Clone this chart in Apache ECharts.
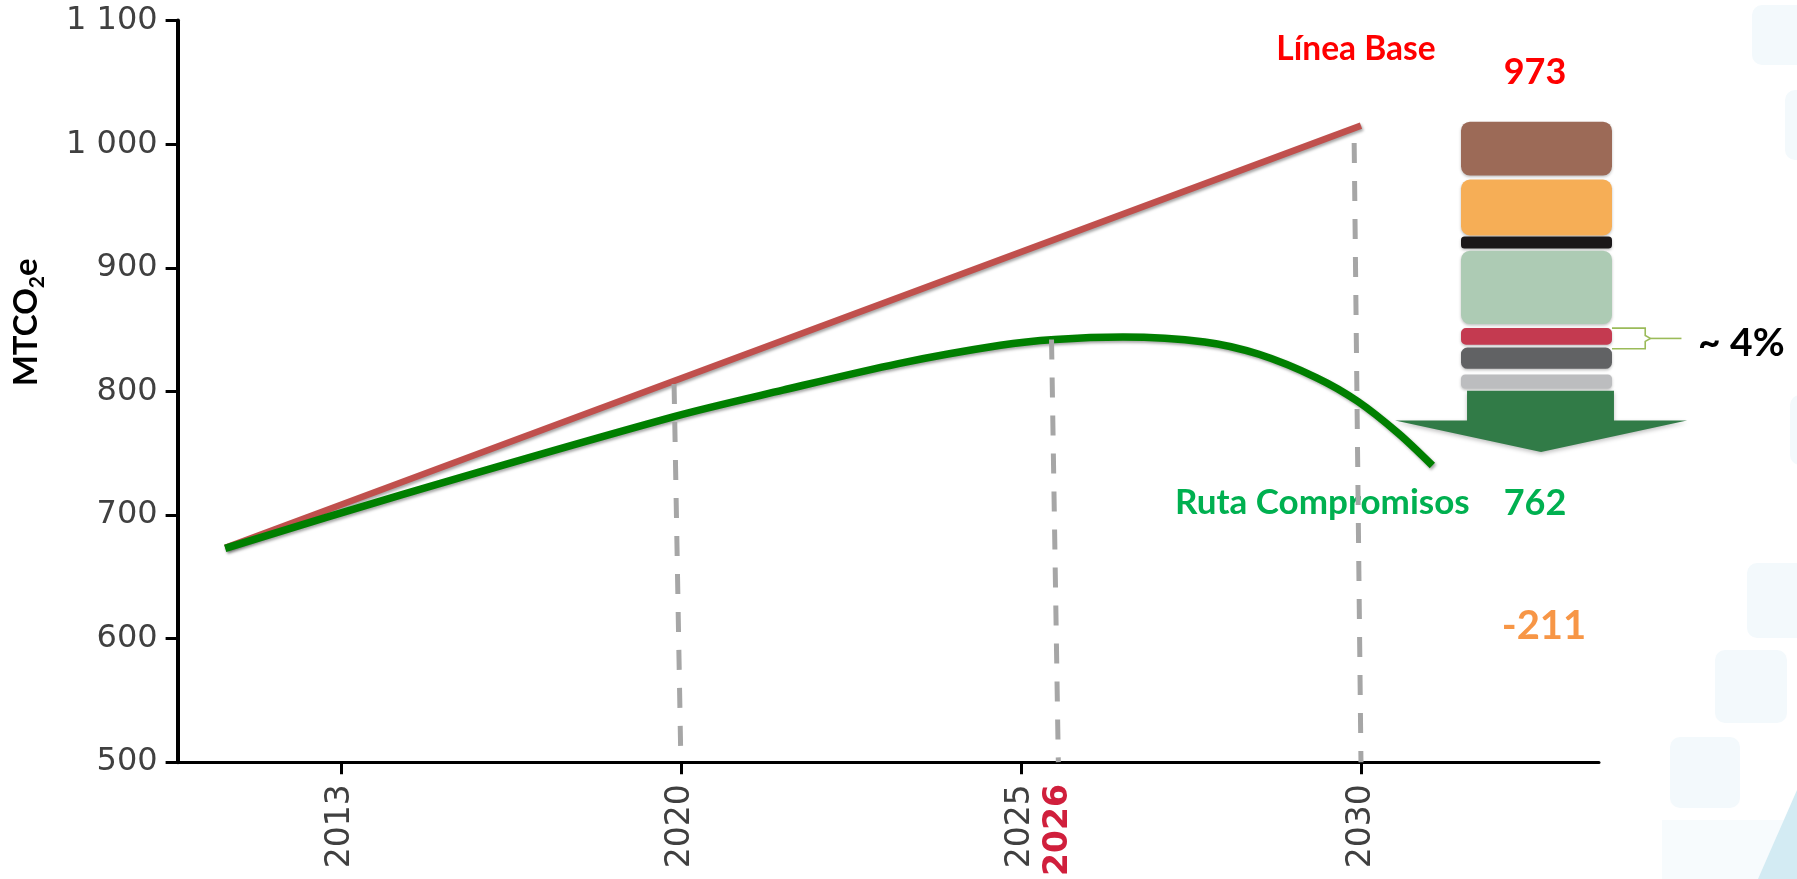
<!DOCTYPE html>
<html>
<head>
<meta charset="utf-8">
<script src="https://cdn.jsdelivr.net/npm/echarts@6/dist/echarts.min.js"></script>
<style>
  html, body { margin: 0; padding: 0; background: #ffffff; }
  #chart { width: 1797px; height: 879px; }
</style>
</head>
<body>
<div id="chart"></div>
<script>
// ---------------- data ----------------
// x values are years on the chart's (hand-drawn) time axis
const baseYears  = [2013.3, 2030.0];
const baseValues = [673.5, 1015];

const pathYears  = [2013.3, 2015.9, 2019.9, 2021.5, 2023.2, 2024.7, 2025.5, 2026.5, 2027.7, 2028.5, 2029.35, 2029.95, 2030.55, 2031.05];
const pathValues = [673, 716.5, 779.6, 801, 822.5, 837.3, 842, 844, 840, 830, 811, 792, 766, 740];

// x-axis tick labels and where the source places them on its axis
const xTickLabels = ['2013', '2020', '2025', '2026', '2030'];
const xTickAt     = [2015.0, 2020, 2025, 2025.55, 2030];
const xTickMarks  = [2015.0, 2020, 2025, 2030];
const highlightLabel = '2026';

// dashed guide lines (top year/value -> bottom year)
const guideTopYears = [2019.9, 2025.45, 2029.9];
const guideTopValues = [806, 842, 1001];
const guideBottomYears = [2020, 2025.55, 2030];

// stacked reduction blocks (MtCO2e scale of the main axis)
const reductionColors = ['#9C6A57', '#F6AE56', '#1B1819', '#ADCBB4', '#C43A50', '#616264', '#BCBDBF'];
const reductionTop    = [1018.6, 972.0, 926.0, 914.7, 852.3, 836.6, 815.0];
const reductionBottom = [975.2, 926.9, 916.5, 855.6, 838.9, 819.5, 803.6];
const arrowLevels  = [801.8, 777.9, 752.6];   // body top, wing line, tip
const bracketRange = [852.3, 835.7];
const bracketText  = '~ 4%';

const baseline2030 = 973;
const commitment2030 = 762;
const gap2030 = commitment2030 - baseline2030;

const yMin = 500, yMax = 1100, yStep = 100;
const xMin = 2012.6, xMax = 2033.5;

// ---------------- chart ----------------
const chart = echarts.init(document.getElementById('chart'));

function fmtThousands(v) {
  if (v >= 1000) return Math.floor(v / 1000) + ' ' + String(v % 1000).padStart(3, '0');
  return String(v);
}

const lineShadow = { shadowColor: 'rgba(0,0,0,0.35)', shadowBlur: 3, shadowOffsetX: 1.5, shadowOffsetY: 2 };

const guideSeries = guideTopYears.map((ty, i) => ({
  type: 'line',
  xAxisIndex: 0, yAxisIndex: 0,
  data: [[ty, guideTopValues[i]], [guideBottomYears[i], yMin]],
  symbol: 'none',
  silent: true,
  z: 6,
  lineStyle: { color: '#A6A6A6', width: 5, type: [20, 18], cap: 'butt' }
}));

const bgColor = '#F3F9FC';
const bgRects = [
  [1752, 5, 60, 60], [1785, 90, 40, 70], [1790, 395, 30, 70],
  [1747, 563, 60, 75], [1715, 650, 72, 73], [1670, 737, 70, 71]
];

const option = {
  backgroundColor: '#ffffff',
  animation: false,
  graphic: [
    ...bgRects.map(r => ({
      type: 'rect', z: -10, silent: true,
      shape: { x: r[0], y: r[1], width: r[2], height: r[3], r: 10 },
      style: { fill: bgColor }
    })),
    { type: 'rect', z: -11, silent: true, shape: { x: 1662, y: 820, width: 135, height: 59 }, style: { fill: '#F7FBFD' } },
    { type: 'polygon', z: -9, silent: true, shape: { points: [[1797, 790], [1797, 879], [1758, 879]] }, style: { fill: '#D3EBF3' } },
    { type: 'text', x: 1356, y: 49, style: { text: 'Línea Base', fill: '#FF0000', font: 'bold 33.5px Lato', textAlign: 'center', textVerticalAlign: 'middle' } },
    { type: 'text', x: 1175, y: 503, style: { text: 'Ruta Compromisos', fill: '#00B050', font: 'bold 35px Lato', textAlign: 'left', textVerticalAlign: 'middle' } },
    { type: 'text', x: 1535, y: 72, style: { text: String(baseline2030), fill: '#FF0000', font: 'bold 36px Lato', textAlign: 'center', textVerticalAlign: 'middle' } },
    { type: 'text', x: 1535, y: 503, style: { text: String(commitment2030), fill: '#00B050', font: 'bold 36px Lato', textAlign: 'center', textVerticalAlign: 'middle' } },
    { type: 'text', x: 1544, y: 626, style: { text: String(gap2030), fill: '#F79646', font: 'bold 40px Lato', textAlign: 'center', textVerticalAlign: 'middle' } },
    { type: 'text', x: 1698, y: 343, style: { text: bracketText, fill: '#000000', font: 'bold 39px Lato', textAlign: 'left', textVerticalAlign: 'middle' } }
  ],
  grid: [
    { left: 177.6, right: 198, top: 20.6, bottom: 113.5, containLabel: false },
    { left: 1461, width: 151, top: 20.6, bottom: 113.5, containLabel: false }
  ],
  xAxis: [
    {
      type: 'value', gridIndex: 0, min: xMin, max: xMax,
      splitLine: { show: false },
      axisLine: { show: true, onZero: false, lineStyle: { color: '#000', width: 3 } },
      axisTick: { show: true, customValues: xTickMarks, length: 12, lineStyle: { color: '#000', width: 3 } },
      axisLabel: {
        show: true,
        customValues: xTickAt,
        rotate: 90,
        margin: 22,
        formatter: function (v) {
          let idx = 0, best = Infinity;
          xTickAt.forEach((p, i) => { const d = Math.abs(p - v); if (d < best) { best = d; idx = i; } });
          const t = xTickLabels[idx];
          return t === highlightLabel ? '{r|' + t + '}' : '{n|' + t + '}';
        },
        rich: {
          n: { color: '#404040', fontSize: 33, fontFamily: 'DejaVu Sans' },
          r: { color: '#D01F3C', fontSize: 33, fontFamily: 'DejaVu Sans', fontWeight: 'bold' }
        }
      }
    },
    { type: 'category', gridIndex: 1, data: ['reducciones'], show: false, boundaryGap: true }
  ],
  yAxis: [
    {
      type: 'value', gridIndex: 0, min: yMin, max: yMax, interval: yStep,
      splitLine: { show: false },
      axisLine: { show: true, lineStyle: { color: '#000', width: 4 } },
      axisTick: { show: true, length: 12, lineStyle: { color: '#000', width: 3 } },
      axisLabel: { color: '#404040', fontSize: 32, fontFamily: 'DejaVu Sans', margin: 20, formatter: fmtThousands },
      name: '{a|MTCO}{s|2}{a|e}',
      nameLocation: 'middle',
      nameRotate: 90,
      nameGap: 130,
      nameTextStyle: {
        padding: [0, 0, 0, 138],
        rich: {
          a: { fontSize: 33, fontWeight: 'bold', fontFamily: 'Lato', color: '#000', lineHeight: 42 },
          s: { fontSize: 21, fontWeight: 'bold', fontFamily: 'Lato', color: '#000', lineHeight: 42, verticalAlign: 'bottom' }
        }
      }
    },
    { type: 'value', gridIndex: 1, min: yMin, max: yMax, show: false }
  ],
  series: [
    {
      type: 'line', name: 'Línea Base', xAxisIndex: 0, yAxisIndex: 0,
      data: baseYears.map((x, i) => [x, baseValues[i]]),
      symbol: 'none', z: 3,
      lineStyle: Object.assign({ color: '#C0504D', width: 6.5, cap: 'butt' }, lineShadow)
    },
    {
      type: 'line', name: 'Ruta Compromisos', xAxisIndex: 0, yAxisIndex: 0,
      data: pathYears.map((x, i) => [x, pathValues[i]]),
      symbol: 'none', smooth: 0.3, z: 4,
      lineStyle: Object.assign({ color: '#007F00', width: 7.5, cap: 'butt' }, lineShadow)
    },
    ...guideSeries,
    {
      type: 'custom', name: 'reducciones', xAxisIndex: 1, yAxisIndex: 1, z: 5,
      data: reductionTop.map((t, i) => [0, reductionBottom[i], t, i]),
      renderItem: function (params, api) {
        const lo = api.coord([0, api.value(1)]);
        const hi = api.coord([0, api.value(2)]);
        const bw = api.size([1, 0])[0];
        const h = lo[1] - hi[1];
        const idx = api.value(3);
        return {
          type: 'rect',
          shape: { x: lo[0] - bw / 2, y: hi[1], width: bw, height: h, r: Math.min(9, h * 0.3) },
          style: { fill: reductionColors[idx], shadowColor: 'rgba(0,0,0,0.25)', shadowBlur: 3, shadowOffsetY: 1.5 }
        };
      }
    },
    {
      type: 'custom', name: 'flecha', xAxisIndex: 1, yAxisIndex: 1, z: 5,
      data: [[0, arrowLevels[0], arrowLevels[1], arrowLevels[2]]],
      renderItem: function (params, api) {
        const top = api.coord([0, api.value(1)]);
        const wing = api.coord([0, api.value(2)]);
        const tip = api.coord([0, api.value(3)]);
        const bw = api.size([1, 0])[0];
        const cx = top[0];
        return {
          type: 'polygon',
          shape: { points: [
            [cx - 0.46 * bw, top[1]], [cx + 0.513 * bw, top[1]], [cx + 0.513 * bw, wing[1]],
            [cx + 0.997 * bw, wing[1]], [cx + 0.03 * bw, tip[1]], [cx - 0.937 * bw, wing[1]],
            [cx - 0.46 * bw, wing[1]]
          ] },
          style: { fill: '#317B47', shadowColor: 'rgba(0,0,0,0.25)', shadowBlur: 4, shadowOffsetY: 2 }
        };
      }
    },
    {
      type: 'custom', name: 'llave', xAxisIndex: 1, yAxisIndex: 1, z: 5,
      data: [[0, bracketRange[0], bracketRange[1]]],
      renderItem: function (params, api) {
        const a = api.coord([0, api.value(1)]);
        const b = api.coord([0, api.value(2)]);
        const bw = api.size([1, 0])[0];
        const xr = a[0] + bw / 2;
        const xv = xr + 0.22 * bw;
        const xn = xr + 0.255 * bw;
        const xe = xr + 0.46 * bw;
        const ym = (a[1] + b[1]) / 2;
        const st = { stroke: '#9BBB59', lineWidth: 1.6, fill: null };
        return {
          type: 'group',
          children: [
            { type: 'polyline', shape: { points: [[xr, a[1]], [xv, a[1]], [xv, ym - 3], [xn, ym], [xv, ym + 3], [xv, b[1]], [xr, b[1]]] }, style: st },
            { type: 'line', shape: { x1: xn, y1: ym, x2: xe, y2: ym }, style: st }
          ]
        };
      }
    }
  ]
};

chart.setOption(option);
</script>
</body>
</html>
